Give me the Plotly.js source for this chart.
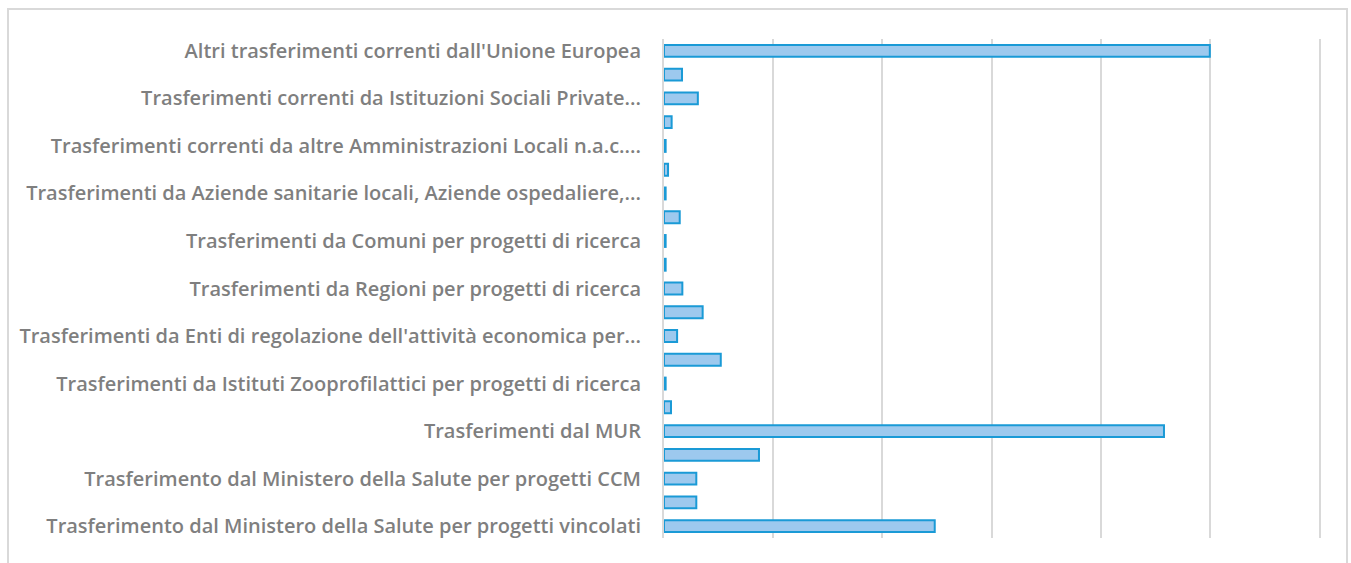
<!DOCTYPE html>
<html>
<head>
<meta charset="utf-8">
<script src="https://cdn.plot.ly/plotly-3.0.1.min.js"></script>
<style>
  html, body { margin: 0; padding: 0; background: #ffffff; overflow: hidden; }
  #chart { width: 1351px; height: 563px; }
  #frame { position: absolute; left: 7px; top: 8px; width: 1341px; height: 620px;
           border: 2px solid #d9d9d9; pointer-events: none; box-sizing: border-box; }
</style>
</head>
<body>
<div id="chart"></div>
<div id="frame"></div>
<script>
// Categories listed from top to bottom as they appear in the chart.
// Only every other label is printed in the reference; the unprinted ones are placeholders.
const categories = [
  "Altri trasferimenti correnti dall'Unione Europea",
  "Voce 2",
  "Trasferimenti correnti da Istituzioni Sociali Private...",
  "Voce 4",
  "Trasferimenti correnti da altre Amministrazioni Locali n.a.c....",
  "Voce 6",
  "Trasferimenti da Aziende sanitarie locali, Aziende ospedaliere,...",
  "Voce 8",
  "Trasferimenti da Comuni per progetti di ricerca",
  "Voce 10",
  "Trasferimenti da Regioni per progetti di ricerca",
  "Voce 12",
  "Trasferimenti da Enti di regolazione dell'attività economica per...",
  "Voce 14",
  "Trasferimenti da Istituti Zooprofilattici per progetti di ricerca",
  "Voce 16",
  "Trasferimenti dal MUR",
  "Voce 18",
  "Trasferimento dal Ministero della Salute per progetti CCM",
  "Voce 20",
  "Trasferimento dal Ministero della Salute per progetti vincolati"
];

// Values (relative units; grid step = 1)
const values = [
  5.00, 0.165, 0.31, 0.07, 0.015, 0.037, 0.015, 0.144, 0.015, 0.015, 0.168,
  0.354, 0.12, 0.52, 0.015, 0.064, 4.58, 0.87, 0.296, 0.296, 2.48
];

// Labels that are printed (every other category)
const shownLabels = categories.filter((c, i) => i % 2 === 0);

const trace = {
  type: 'bar',
  orientation: 'h',
  y: categories,
  x: values,
  marker: { color: '#9dc9ee', line: { color: '#1a9ad6', width: 2 } },
  width: 0.5,
  hoverinfo: 'x+y'
};

const layout = {
  width: 1351,
  height: 563,
  margin: { l: 664, r: 32, t: 39, b: 25, pad: 0 },
  paper_bgcolor: '#ffffff',
  plot_bgcolor: '#ffffff',
  showlegend: false,
  xaxis: {
    range: [0, 6],
    dtick: 1,
    showgrid: true,
    gridcolor: '#d9d9d9',
    gridwidth: 2,
    zeroline: false,
    showline: false,
    showticklabels: false,
    ticks: ''
  },
  yaxis: {
    type: 'category',
    autorange: 'reversed',
    tickmode: 'array',
    tickvals: shownLabels,
    ticktext: shownLabels,
    showgrid: false,
    zeroline: false,
    showline: true,
    mirror: true,
    linecolor: '#d9d9d9',
    linewidth: 2,
    ticks: '',
    ticklabelstandoff: 17,
    tickfont: { family: '"Open Sans", Roboto, sans-serif', size: 20, color: '#7f7f7f', weight: 600 }
  }
};

Plotly.newPlot('chart', [trace], layout, { displayModeBar: false, staticPlot: true });
</script>
</body>
</html>
